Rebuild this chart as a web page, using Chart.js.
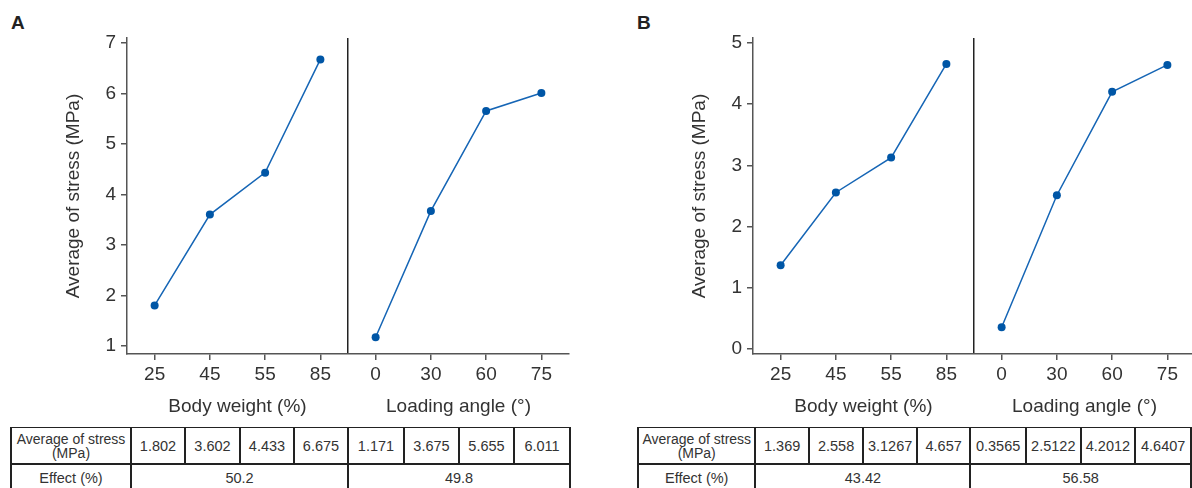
<!DOCTYPE html>
<html>
<head>
<meta charset="utf-8">
<script src="https://cdn.jsdelivr.net/npm/chart.js@4/dist/chart.umd.min.js"></script>
<style>
  body { margin: 0; width: 1192px; height: 488px; overflow: hidden; background: #fff;
         font-family: "Liberation Sans", Arial, sans-serif; position: relative; }
  canvas { position: absolute; top: 0; }
  .lbl { position: absolute; top: 12px; font-weight: bold; font-size: 19px; color: #222; }
  table { position: absolute; top: 427px; border-collapse: collapse; table-layout: fixed; color: #333; }
  td { border: 2px solid #222; text-align: center; padding: 0; font-size: 14.5px; }
  tr.r1 td { height: 35px; border-top-width: 1px; }
  tr.r2 td { height: 26px; }
  td.head { font-size: 14px; line-height: 14px; }
</style>
</head>
<body>
<div class="lbl" style="left:11px">A</div>
<div class="lbl" style="left:637px">B</div>
<canvas id="chartA" width="596" height="425" style="left:0"></canvas>
<canvas id="chartB" width="596" height="425" style="left:626px"></canvas>
<table id="tableA" style="left:10px"></table>
<table id="tableB" style="left:637px"></table>
<script>
// categories and tick labels
var xLabels    = ['25', '45', '55', '85', '0', '30', '60', '75'];
var axisTitles = ['Body weight (%)', 'Loading angle (\u00b0)'];
var yTicksA    = [1, 2, 3, 4, 5, 6, 7];
var yTicksB    = [0, 1, 2, 3, 4, 5];

// average of stress (MPa)
var weightA = [1.802, 3.602, 4.433, 6.675];
var angleA  = [1.171, 3.675, 5.655, 6.011];
var weightB = [1.369, 2.558, 3.1267, 4.657];
var angleB  = [0.3565, 2.5122, 4.2012, 4.6407];

// effect (%)
var effectA = [50.2, 49.8];
var effectB = [43.42, 56.58];

var FONT = "'Liberation Sans', Arial, sans-serif";
var TXT  = '#333';
var AXIS = '#555';

function makeChart(id, weight, angle, yTicks, yMin, yMax) {
    var gap = [null, null, null, null];
    var common = {
        borderColor: '#1565b5',
        borderWidth: 1.5,
        pointRadius: 4,
        pointBackgroundColor: '#0056a6',
        pointBorderWidth: 0,
        xAxisID: 'x',
        yAxisID: 'y'
    };
    return new Chart(document.getElementById(id), {
        type: 'line',
        data: {
            labels: xLabels,
            datasets: [
                Object.assign({ data: weight.concat(gap) }, common),
                Object.assign({ data: gap.concat(angle) }, common)
            ]
        },
        options: {
            responsive: false,
            animation: false,
            layout: { padding: { left: 58, right: 27, top: 38, bottom: 0 } },
            plugins: { legend: { display: false }, tooltip: { enabled: false } },
            scales: {
                x: {
                    type: 'category',
                    offset: true,
                    grid: { offset: false, drawOnChartArea: false, color: AXIS, lineWidth: 1.5, tickLength: 6 },
                    border: { color: AXIS, width: 1.5 },
                    ticks: { font: { family: FONT, size: 19 }, color: TXT, padding: 3, maxRotation: 0 },
                    afterFit: function (s) { s.height = 30; }
                },
                x2: {
                    type: 'category',
                    position: 'bottom',
                    weight: 1,
                    labels: axisTitles,
                    offset: true,
                    grid: {
                        offset: true,
                        drawTicks: false,
                        lineWidth: 1.5,
                        color: function (c) { return c.index === 1 ? '#222' : 'rgba(0,0,0,0)'; }
                    },
                    border: { display: false },
                    ticks: { font: { family: FONT, size: 19 }, color: TXT, padding: 11, maxRotation: 0 },
                    afterFit: function (s) { s.height = 41; }
                },
                y: {
                    min: yMin,
                    max: yMax,
                    grid: { drawOnChartArea: false, color: AXIS, lineWidth: 1.5, tickLength: 6 },
                    border: { color: AXIS, width: 1.5 },
                    ticks: { font: { family: FONT, size: 19 }, color: TXT, padding: 5 },
                    afterBuildTicks: function (s) {
                        s.ticks = yTicks.map(function (v) { return { value: v }; });
                    },
                    title: {
                        display: true,
                        text: 'Average of stress (MPa)',
                        font: { family: FONT, size: 19 },
                        color: TXT
                    },
                    afterFit: function (s) { s.width = 69; }
                }
            }
        }
    });
}

function makeTable(id, weight, angle, effect) {
    var widths = [120, 54, 55, 54, 54, 56, 55, 55, 56];
    var html = '<colgroup>';
    widths.forEach(function (w) { html += '<col style="width:' + w + 'px">'; });
    html += '</colgroup><tr class="r1"><td class="head">Average of stress<br>(MPa)</td>';
    weight.concat(angle).forEach(function (v) { html += '<td>' + v + '</td>'; });
    html += '</tr><tr class="r2"><td>Effect (%)</td>';
    effect.forEach(function (v) { html += '<td colspan="4">' + v + '</td>'; });
    html += '</tr>';
    document.getElementById(id).innerHTML = html;
}

makeChart('chartA', weightA, angleA, yTicksA, 0.84, 7.1);
makeChart('chartB', weightB, angleB, yTicksB, -0.08, 5.08);
makeTable('tableA', weightA, angleA, effectA);
makeTable('tableB', weightB, angleB, effectB);
</script>
</body>
</html>
